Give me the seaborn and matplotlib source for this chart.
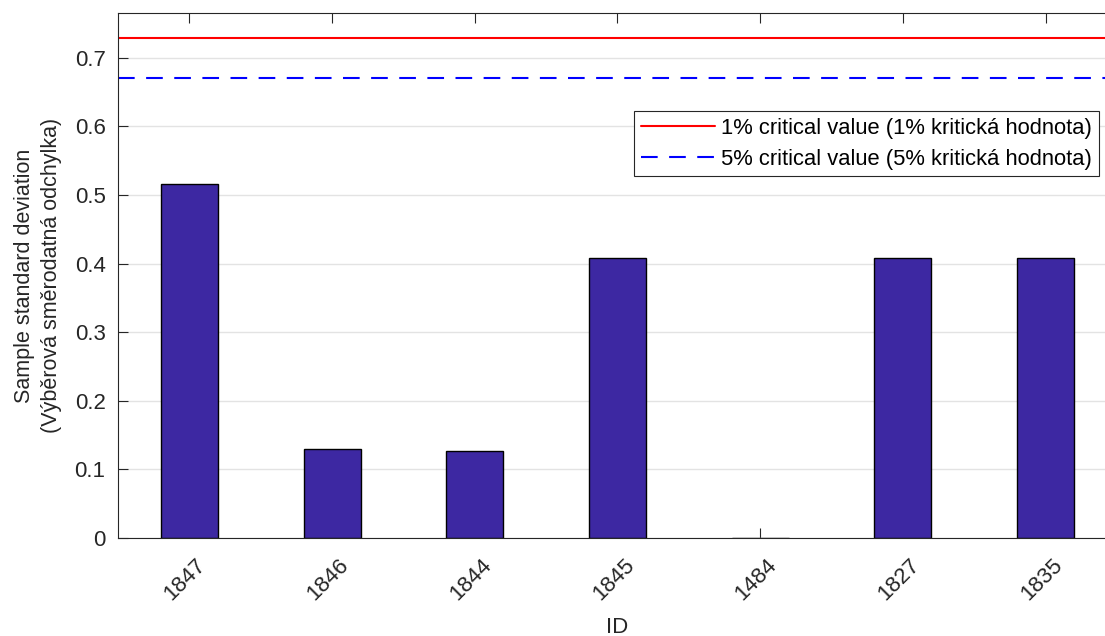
import pandas as pd
import seaborn as sns
import matplotlib.pyplot as plt
import matplotlib.transforms as mtransforms

ids = ["1847", "1846", "1844", "1845", "1484", "1827", "1835"]
std_values = [0.516, 0.130, 0.127, 0.408, 0.0, 0.408, 0.408]
crit_1pct = 0.729
crit_5pct = 0.670

bar_color = "#3d28a2"
ink = "#262626"

sns.set_theme(style="white")
plt.rcParams["font.family"] = ["Liberation Sans", "DejaVu Sans"]

df = pd.DataFrame({"ID": ids, "std": std_values})

fig = plt.figure(figsize=(11.05, 6.36), dpi=100)
ax = fig.add_axes([0.1068, 0.154, 0.904, 0.8256])

ax.set_axisbelow(True)
ax.yaxis.grid(True, color="#e3e3e3", lw=1)
sns.barplot(data=df, x="ID", y="std", order=ids, width=0.4, color=bar_color,
            saturation=1, edgecolor="black", linewidth=1, ax=ax)

ax.axhline(crit_1pct, color="red", lw=1.5, label="1% critical value (1% kritická hodnota)")
ax.axhline(crit_5pct, color="blue", lw=1.5, dashes=(8, 5.5),
           label="5% critical value (5% kritická hodnota)")

ax.set_xlim(-0.5, 6.5)
ax.set_ylim(0, 0.765)
ax.set_yticks([0, 0.1, 0.2, 0.3, 0.4, 0.5, 0.6, 0.7])
ax.set_yticklabels(["0", "0.1", "0.2", "0.3", "0.4", "0.5", "0.6", "0.7"])

for side in ["left", "top", "bottom", "right"]:
    ax.spines[side].set_color(ink)
    ax.spines[side].set_linewidth(0.8)

ax.tick_params(axis="both", direction="in", length=7.5, width=0.8, color=ink,
               labelsize=16, labelcolor=ink, top=True, left=True, bottom=True)
ax.tick_params(axis="y", pad=9)
ax.tick_params(axis="x", pad=12)
shift = mtransforms.ScaledTranslation(-4 / 100, 0, fig.dpi_scale_trans)
for lab in ax.get_xticklabels():
    lab.set_rotation(45)
    lab.set_ha("center")
    lab.set_transform(lab.get_transform() + shift)

ax.set_xlabel("ID", fontsize=16, color=ink, labelpad=9)
ax.set_ylabel("Sample standard deviation\n(Výběrová směrodatná odchylka)", fontsize=15.5,
              color=ink, labelpad=9, linespacing=1.35)

leg = ax.legend(loc="upper right", bbox_to_anchor=(0.982, 0.813), fontsize=15.8,
                frameon=True, fancybox=False, framealpha=1, borderpad=0.3,
                handlelength=3.4, handletextpad=0.28, labelspacing=0.45,
                borderaxespad=0)
leg.get_frame().set_edgecolor(ink)
leg.get_frame().set_linewidth(0.8)
for t in leg.get_texts():
    t.set_color("black")

fig.savefig("out.png", dpi=100)
